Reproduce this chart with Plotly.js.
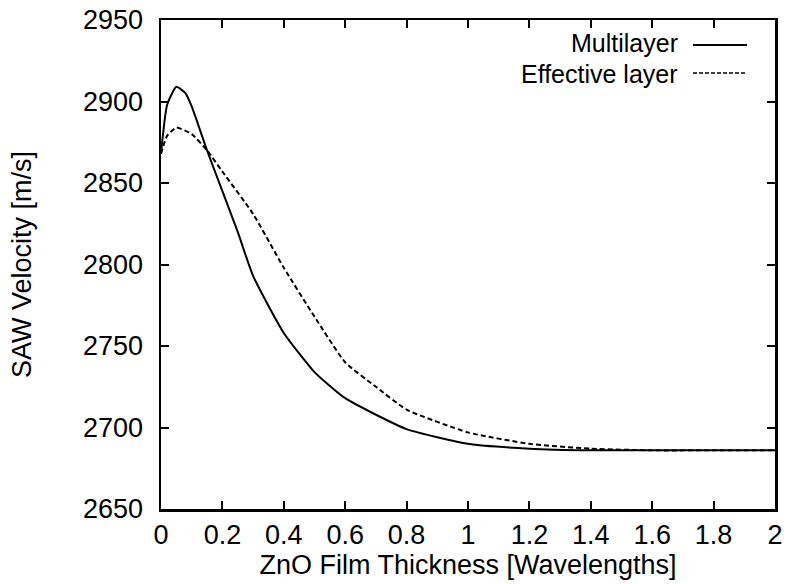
<!DOCTYPE html>
<html>
<head>
<meta charset="utf-8">
<script src="https://cdn.plot.ly/plotly-3.0.1.min.js"></script>
<style>html,body{margin:0;padding:0;background:#fff;}#chart{width:790px;height:584px;}</style>
</head>
<body>
<div id="chart"></div>
<script>
// Multilayer (solid)
const xMulti = [0, 0.02, 0.05, 0.08, 0.1, 0.15, 0.2, 0.25, 0.3, 0.4, 0.5, 0.6, 0.8, 1.0, 1.2, 1.4, 1.6, 1.8, 2.0];
const yMulti = [2868, 2898, 2909, 2905, 2897, 2870, 2845, 2820, 2793, 2758, 2734, 2718, 2699, 2690, 2687, 2686, 2686, 2686, 2686];
// Effective layer (dashed)
const xEff = [0, 0.02, 0.05, 0.1, 0.15, 0.2, 0.3, 0.4, 0.5, 0.6, 0.7, 0.8, 1.0, 1.2, 1.4, 1.6, 1.8, 2.0];
const yEff = [2868, 2879, 2884, 2880, 2870, 2857, 2831, 2798, 2768, 2740, 2725, 2711, 2697, 2690, 2687, 2686, 2686, 2686];

const xTickVals = [0, 0.2, 0.4, 0.6, 0.8, 1, 1.2, 1.4, 1.6, 1.8, 2];
const xTickText = ['0', '0.2', '0.4', '0.6', '0.8', '1', '1.2', '1.4', '1.6', '1.8', '2'];
const yTickVals = [2650, 2700, 2750, 2800, 2850, 2900, 2950];
const seriesNames = ['Multilayer', 'Effective layer'];

const FONT = 'Liberation Sans, Arial, Helvetica, sans-serif';

const traces = [
  {x: xMulti, y: yMulti, mode: 'lines', name: seriesNames[0],
   line: {color: '#000', width: 2, shape: 'spline', smoothing: 0.5}},
  {x: xEff, y: yEff, mode: 'lines', name: seriesNames[1],
   line: {color: '#000', width: 2, dash: '5px,3px', shape: 'spline', smoothing: 0.5}}
];

const axisCommon = {
  showgrid: false, zeroline: false, showline: true, linecolor: '#000', linewidth: 2.5,
  mirror: 'ticks', ticks: 'inside', ticklen: 8, tickwidth: 2, tickcolor: '#000',
  tickfont: {family: FONT, size: 27, color: '#000'}
};

const layout = {
  width: 790, height: 584,
  margin: {l: 161, r: 15, t: 20, b: 75},
  paper_bgcolor: '#fff', plot_bgcolor: '#fff',
  showlegend: false,
  xaxis: Object.assign({}, axisCommon, {
    range: [0, 2], tickvals: xTickVals, ticktext: xTickText, ticklabelstandoff: 0,
    title: {text: 'ZnO Film Thickness [Wavelengths]', font: {family: FONT, size: 27, color: '#000'}, standoff: 0}
  }),
  yaxis: Object.assign({}, axisCommon, {
    range: [2650, 2950], tickvals: yTickVals, ticklabelstandoff: 10,
    title: {text: 'SAW Velocity [m/s]', font: {family: FONT, size: 27, color: '#000'}, standoff: 44}
  }),
  annotations: [
    {xref: 'paper', yref: 'paper', x: (680-161)/614, y: (509-43)/489, xanchor: 'right', yanchor: 'middle',
     text: seriesNames[0], showarrow: false, font: {family: FONT, size: 25, color: '#000'}},
    {xref: 'paper', yref: 'paper', x: (680-161)/614, y: (509-74)/489, xanchor: 'right', yanchor: 'middle',
     text: seriesNames[1], showarrow: false, font: {family: FONT, size: 25, color: '#000'}}
  ],
  shapes: [
    {type: 'line', xref: 'paper', yref: 'paper', x0: (693-161)/614, x1: (747-161)/614,
     y0: (509-45)/489, y1: (509-45)/489, line: {color: '#000', width: 2}},
    {type: 'line', xref: 'paper', yref: 'paper', x0: (693-161)/614, x1: (747-161)/614,
     y0: (509-73)/489, y1: (509-73)/489, line: {color: '#000', width: 1.5, dash: '4px,2px'}}
  ]
};

Plotly.newPlot('chart', traces, layout, {staticPlot: true, displayModeBar: false});
</script>
</body>
</html>
